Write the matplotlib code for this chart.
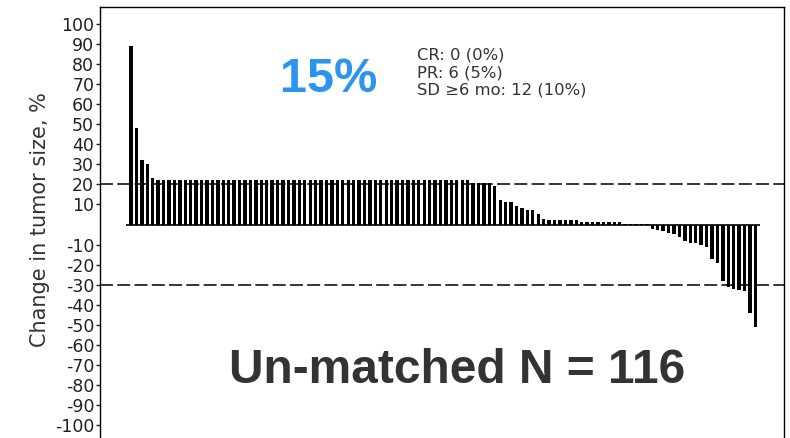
import matplotlib
matplotlib.use("Agg")
import matplotlib.pyplot as plt
import numpy as np

# best % change in tumour size per patient, sorted high to low
top_bars = [89, 48, 32, 30, 23]
plateau = [22] * 58
near_20 = [20.5] * 4
falling = [19, 12, 11, 11, 9, 8, 7, 7, 5, 2.5]
small_pos = [2] * 6 + [1] * 8 + [0.5] * 5
negative = [-2, -2.5, -3, -4, -4.5, -6, -8, -9, -9, -10,
            -11, -17, -19, -28, -31, -32, -32.5, -33, -44, -51]
change = np.array(top_bars + plateau + near_20 + falling + small_pos + negative)

yticks = [t for t in range(-100, 101, 10) if t != 0]
cutoffs = [20, -30]

summary_rate = "15%"
summary_lines = ["CR: 0 (0%)", "PR: 6 (5%)", "SD \u22656 mo: 12 (10%)"]
cohort_label = "Un-matched N = 116"

fig = plt.figure(figsize=(7.9, 4.38), dpi=100)
ax = fig.add_axes([100 / 790, 0, 684 / 790, 1 - 7 / 438])

x = np.arange(len(change))
ax.bar(x, change, width=0.62, color="black", zorder=2)
ax.hlines(0, -0.9, len(change) - 0.2, color="black", lw=1.2, zorder=3)
for c in cutoffs:
    ax.axhline(c, color="black", lw=1.1, linestyle=(0, (8.5, 2.8)), zorder=4)

ax.set_xlim(-5.71, 120.26)
ax.set_ylim(-106.5, 108.5)
ax.set_xticks([])
ax.set_yticks(yticks)
ax.set_yticklabels([str(t) for t in yticks], fontsize=12.5, color="#222222",
                   family="DejaVu Sans")
ax.tick_params(axis="y", length=3, width=1, pad=1.2, color="#222222")
for side in ["left", "top", "right"]:
    ax.spines[side].set_linewidth(1.0)
ax.spines["bottom"].set_visible(False)

fig.text(40 / 790, 1 - 220 / 438, "Change in tumor size, %", rotation=90,
         ha="center", va="center", fontsize=15, color="#333333",
         family="DejaVu Sans")

fig.text(329 / 790, 1 - 92 / 438, summary_rate, ha="center", va="baseline",
         fontsize=35, fontweight="bold", color="#2b94ef",
         family="Liberation Sans")

for i, line in enumerate(summary_lines):
    fig.text(417 / 790, 1 - (59.3 + 17.8 * i) / 438, line, ha="left",
             va="baseline", fontsize=11.8, color="#333333", family="DejaVu Sans")

fig.text(457.5 / 790, 1 - 383 / 438, cohort_label, ha="center", va="baseline",
         fontsize=34.5, fontweight="bold", color="#333333",
         family="Liberation Sans")

fig.savefig("out.png", dpi=100)
